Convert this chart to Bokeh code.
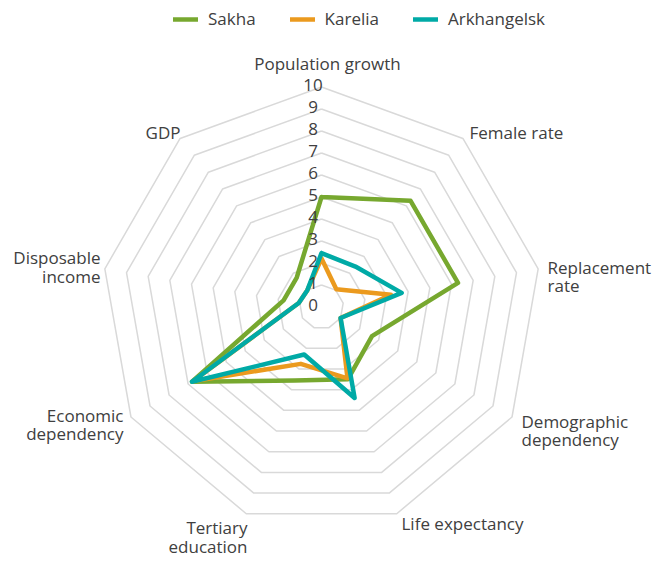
import numpy as np
from bokeh.plotting import figure
from bokeh.models import Legend, LegendItem, Range1d
from bokeh.core.properties import value
from bokeh.embed import file_html
from bokeh.resources import INLINE

# ---------------- data ----------------
categories = ["Population growth", "Female rate", "Replacement\nrate",
              "Demographic\ndependency", "Life expectancy", "Tertiary\neducation",
              "Economic\ndependency", "Disposable\nincome", "GDP"]
sakha = [5.0, 6.3, 6.3, 2.65, 3.5, 3.55, 6.8, 1.75, 1.75]
karelia = [2.2, 1.05, 3.2, 1.0, 3.45, 2.75, 6.75, 1.05, 1.0]
arkhangelsk = [2.45, 2.4, 3.7, 1.0, 4.4, 2.3, 6.8, 1.05, 1.0]
series_names = ["Sakha", "Karelia", "Arkhangelsk"]
tick_labels = ["0", "1", "2", "3", "4", "5", "6", "7", "8", "9", "10"]
ring_values = [1, 2, 3, 4, 5, 6, 7, 8, 9, 10]

# ---------------- style / layout ----------------
colors = ["#77a82f", "#eb9a1e", "#00aaa6"]
grid_color = "#d9d9d9"
text_color = "#404040"
FONT = "Open Sans"
W, H = 660, 562
UNIT = 22.0            # pixels per value unit
CX, CY = 321.0, 306.5  # centre in figure pixels (from top-left)

# label layout: (dx px, dy px down, align)
label_layout = [
    (6, -243.5, "center"),
    (148, -174.5, "left"),
    (226, -30.5, "left"),
    (200, 123.5, "left"),
    (80, 216.5, "left"),
    (-74, 230, "right"),
    (-198, 117.5, "right"),
    (-221, -40, "right"),
    (-158.5, -174.5, "center"),
]

n = len(categories)
theta = np.pi / 2 - np.arange(n) * 2 * np.pi / n

p = figure(width=W, height=H,
           x_range=Range1d(-CX / UNIT, (W - CX) / UNIT),
           y_range=Range1d(-(H - CY) / UNIT, CY / UNIT),
           output_backend="svg", toolbar_location=None, min_border=0,
           x_axis_location=None, y_axis_location=None)
p.grid.visible = False
p.outline_line_color = None

# rings
xs, ys = [], []
for v in ring_values:
    xr = list(v * np.cos(theta)) + [v * np.cos(theta[0])]
    yr = list(v * np.sin(theta)) + [v * np.sin(theta[0])]
    xs.append(xr)
    ys.append(yr)
p.multi_line(xs, ys, line_color=grid_color, line_width=1.5)

# series
renderers = []
for vals, c in zip([sakha, karelia, arkhangelsk], colors):
    v = np.array(vals + [vals[0]])
    th = np.append(theta, theta[0])
    r = p.line(v * np.cos(th), v * np.sin(th), line_color=c, line_width=4.5,
               line_join="round", line_cap="round")
    renderers.append(r)

# tick labels
tick_vals = np.arange(len(tick_labels))
p.text(x=[-8.5 / UNIT] * len(tick_labels), y=list(tick_vals + 2.5 / UNIT),
       text=tick_labels, text_align="center", text_baseline="middle",
       text_font=value(FONT), text_font_size="17px", text_color=text_color)

# category labels
for cat, (dx, dy, al) in zip(categories, label_layout):
    p.text(x=[dx / UNIT], y=[-dy / UNIT], text=[cat], text_align=al,
           text_baseline="middle", text_font=value(FONT), text_font_size="17px",
           text_color=text_color, text_line_height=0.81)

legend = Legend(items=[LegendItem(label=nm, renderers=[r]) for nm, r in zip(series_names, renderers)],
                orientation="horizontal", location=(173, 532),
                glyph_width=25, glyph_height=18, label_standoff=10, spacing=34,
                padding=0, margin=0, border_line_color=None, background_fill_alpha=0,
                label_text_font=FONT, label_text_font_size="17px",
                label_text_color=text_color, label_height=18)
p.add_layout(legend)

open("out.html", "w").write(file_html(p, INLINE))
